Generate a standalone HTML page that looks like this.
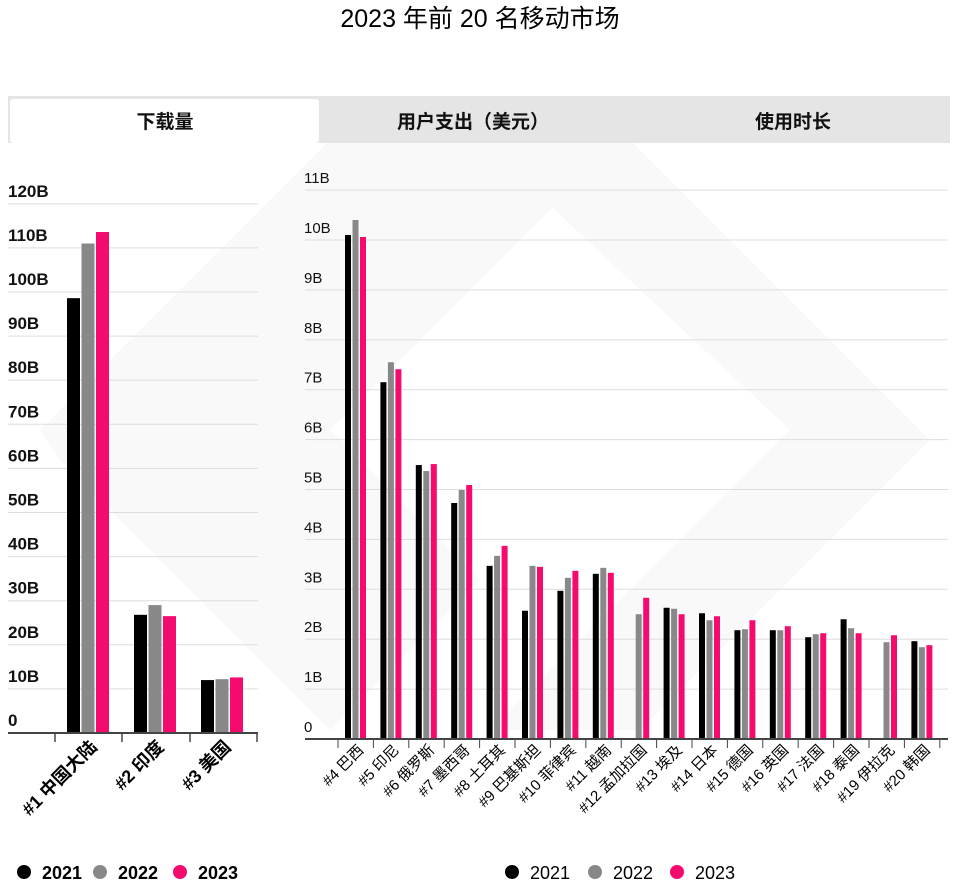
<!DOCTYPE html>
<html><head><meta charset="utf-8"><style>
body{margin:0;background:#fff;width:955px;height:887px;overflow:hidden}
svg{display:block;font-family:"Liberation Sans","Noto Sans CJK SC",sans-serif}
</style></head><body>
<svg id="s" width="955" height="887" viewBox="0 0 955 887">
<g fill="#f9f9f9">
<polygon points="40,430 330,140 620,140 330,430 480,580 330,730 430,830 60,460"/>
<polygon points="480,140 630,140 930,440 640,730 490,730 790,430"/>
</g>
<text x="480" y="27" font-size="25" text-anchor="middle" fill="#000">2023 年前 20 名移动市场</text>
<rect x="8" y="96" width="942" height="47" fill="#e5e5e5"/>
<rect x="10" y="99" width="309" height="44" rx="3" fill="#fff"/>
<g font-size="19" font-weight="bold" text-anchor="middle" fill="#111">
<text x="165" y="128">下载量</text>
<text x="473" y="128">用户支出（美元）</text>
<text x="793" y="128">使用时长</text>
</g>
<g id="L"></g><g id="R"></g>
<g font-size="18" font-weight="bold">
<circle cx="24" cy="872" r="7" fill="#000"/><text x="42" y="879">2021</text>
<circle cx="100" cy="872" r="7" fill="#888"/><text x="118" y="879">2022</text>
<circle cx="180" cy="872" r="7" fill="#f50a6e"/><text x="198" y="879">2023</text>
</g>
<g font-size="18">
<circle cx="512" cy="872" r="7" fill="#000"/><text x="530" y="879">2021</text>
<circle cx="595" cy="872" r="7" fill="#888"/><text x="613" y="879">2022</text>
<circle cx="677" cy="872" r="7" fill="#f50a6e"/><text x="695" y="879">2023</text>
</g>
</svg>
<script>
const C=['#000','#888','#f50a6e'];
function el(p,t,a,txt){const e=document.createElementNS('http://www.w3.org/2000/svg',t);for(const k in a)e.setAttribute(k,a[k]);if(txt!==undefined)e.textContent=txt;p.appendChild(e);return e;}
const L=document.getElementById('L');
const z0=733,u=44.1/10;
for(let v=0;v<=120;v+=10){const y=z0-v*u;if(v>0)el(L,'line',{x1:8,x2:258,y1:y,y2:y,stroke:'#ddd','stroke-width':1});
el(L,'text',{x:8,y:y-7,'font-size':17,'font-weight':'bold',fill:'#111'},v?v+'B':'0');}
const ld=[[98.6,111,113.6],[26.8,29,26.5],[12,12.2,12.6]],ln=['#1 中国大陆','#2 印度','#3 美国'];
ld.forEach((d,i)=>{const cx=88+i*67;d.forEach((v,j)=>{el(L,'rect',{x:cx-21+j*14.5,y:z0-v*u,width:13,height:v*u,fill:C[j]});});
el(L,'text',{x:cx+10,y:748,'font-size':18,'font-weight':'bold','text-anchor':'end',transform:`rotate(-45 ${cx+10} 748)`},ln[i]);});
el(L,'line',{x1:8,x2:258,y1:z0,y2:z0,stroke:'#444','stroke-width':2});
[55,122,190,257].forEach(x=>el(L,'line',{x1:x,x2:x,y1:z0,y2:z0+9,stroke:'#444','stroke-width':1.5}));
const R=document.getElementById('R');const r0=739,ru=49.9;
for(let v=0;v<=11;v++){const y=r0-v*ru;if(v>0)el(R,'line',{x1:305,x2:948,y1:y,y2:y,stroke:'#ddd','stroke-width':1});
el(R,'text',{x:304,y:y-7,'font-size':15,fill:'#111'},v?v+'B':'0');}
const rd=[[10.1,10.4,10.06],[7.15,7.55,7.41],[5.49,5.37,5.51],[4.73,4.99,5.09],[3.47,3.67,3.87],[2.57,3.47,3.45],[2.97,3.23,3.37],[3.31,3.43,3.33],[0,2.5,2.83],[2.63,2.61,2.5],[2.52,2.38,2.46],[2.18,2.2,2.38],[2.18,2.18,2.26],[2.04,2.1,2.12],[2.4,2.22,2.12],[0,1.94,2.08],[1.96,1.84,1.88]];
const rn=['#4 巴西','#5 印尼','#6 俄罗斯','#7 墨西哥','#8 土耳其','#9 巴基斯坦','#10 菲律宾','#11 越南','#12 孟加拉国','#13 埃及','#14 日本','#15 德国','#16 英国','#17 法国','#18 泰国','#19 伊拉克','#20 韩国'];
const sp=35.4;
rd.forEach((d,i)=>{const cx=355.5+i*sp;d.forEach((v,j)=>{if(v>0)el(R,'rect',{x:cx-10.5+j*7.5,y:r0-v*ru,width:6,height:v*ru,fill:C[j]});});
el(R,'text',{x:cx+9,y:751,'font-size':15,'text-anchor':'end',transform:`rotate(-45 ${cx+9} 751)`},rn[i]);});
el(R,'line',{x1:305,x2:948,y1:r0,y2:r0,stroke:'#444','stroke-width':2});
for(let i=0;i<=17;i++){const x=338+i*sp;el(R,'line',{x1:x,x2:x,y1:r0,y2:r0+9,stroke:'#444','stroke-width':1});}
</script>
</body></html>
